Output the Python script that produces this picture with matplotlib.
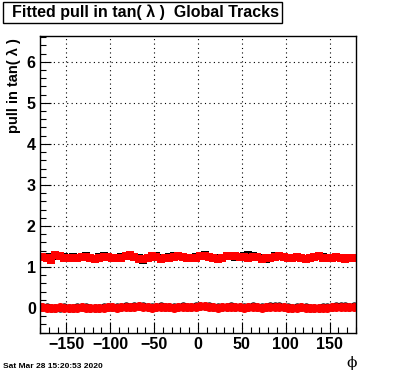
import numpy as np
import matplotlib
matplotlib.use("Agg")
import matplotlib.pyplot as plt
from matplotlib.ticker import MultipleLocator
from matplotlib.patches import Rectangle

phi = np.arange(-177.5, 180, 5.0)

sigma_red = [1.24, 1.22, 1.17, 1.28, 1.27, 1.22, 1.21, 1.23, 1.22, 1.24, 1.25, 1.21,
             1.20, 1.22, 1.25, 1.24, 1.22, 1.21, 1.23, 1.27, 1.29, 1.24, 1.20, 1.19,
             1.22, 1.26, 1.25, 1.20, 1.22, 1.23, 1.25, 1.26, 1.24, 1.22, 1.21, 1.23,
             1.27, 1.27, 1.24, 1.22, 1.20, 1.23, 1.26, 1.27, 1.26, 1.25, 1.25, 1.23,
             1.25, 1.24, 1.20, 1.21, 1.22, 1.25, 1.26, 1.24, 1.22, 1.21, 1.24, 1.22,
             1.20, 1.21, 1.24, 1.26, 1.23, 1.21, 1.22, 1.24, 1.21, 1.20, 1.22, 1.22]
sigma_black = [1.25, 1.24, 1.19, 1.27, 1.26, 1.24, 1.22, 1.25, 1.23, 1.25, 1.27, 1.23,
               1.19, 1.24, 1.26, 1.25, 1.23, 1.22, 1.25, 1.26, 1.28, 1.25, 1.21, 1.18,
               1.23, 1.27, 1.26, 1.21, 1.23, 1.24, 1.27, 1.27, 1.25, 1.21, 1.22, 1.24,
               1.26, 1.28, 1.25, 1.23, 1.21, 1.22, 1.27, 1.26, 1.25, 1.24, 1.26, 1.29,
               1.26, 1.25, 1.22, 1.19, 1.23, 1.26, 1.27, 1.25, 1.21, 1.22, 1.25, 1.23,
               1.19, 1.22, 1.25, 1.27, 1.24, 1.21, 1.21, 1.25, 1.23, 1.21, 1.21, 1.23]
mean_red = [0.02, 0.01, 0.00, 0.01, 0.02, 0.01, 0.00, 0.00, 0.01, 0.02, 0.01, 0.00,
            -0.01, 0.00, 0.01, 0.02, 0.02, 0.01, 0.02, 0.03, 0.02, 0.03, 0.04, 0.03,
            0.02, 0.01, 0.02, 0.03, 0.02, 0.02, 0.01, 0.02, 0.03, 0.02, 0.02, 0.03,
            0.04, 0.04, 0.03, 0.02, 0.01, 0.02, 0.02, 0.03, 0.02, 0.02, 0.01, 0.02,
            0.03, 0.02, 0.01, 0.02, 0.03, 0.02, 0.03, 0.02, 0.01, 0.00, 0.01, 0.02,
            0.01, 0.00, -0.01, 0.00, 0.01, 0.01, 0.02, 0.03, 0.03, 0.02, 0.03, 0.03]
mean_black = [0.03, 0.02, 0.01, 0.00, 0.01, 0.02, 0.01, 0.01, 0.02, 0.03, 0.02, 0.01,
              0.00, 0.01, 0.02, 0.03, 0.03, 0.02, 0.03, 0.04, 0.03, 0.04, 0.05, 0.04,
              0.03, 0.02, 0.03, 0.04, 0.03, 0.03, 0.02, 0.03, 0.04, 0.03, 0.03, 0.04,
              0.06, 0.05, 0.04, 0.03, 0.02, 0.03, 0.03, 0.04, 0.03, 0.03, 0.02, 0.03,
              0.04, 0.03, 0.02, 0.03, 0.04, 0.05, 0.04, 0.03, 0.02, 0.01, 0.02, 0.03,
              0.02, 0.01, 0.00, 0.01, 0.02, 0.02, 0.03, 0.04, 0.05, 0.04, 0.03, 0.04]

plt.rcParams['font.family'] = ['Liberation Sans', 'DejaVu Sans']
plt.rcParams['font.weight'] = 'bold'

fig = plt.figure(figsize=(3.96, 3.72), dpi=100)
W, H = 396, 372
ax = fig.add_axes([40 / W, 1 - 333 / H, 316 / W, 297 / H])

ax.plot(phi, sigma_black, ls='none', marker='s', ms=5.5, color='black', mew=0)
ax.plot(phi, mean_black, ls='none', marker='o', ms=6, color='black', mew=0)
ax.plot(phi, sigma_red, ls='none', marker='s', ms=6, color='red', mew=0)
ax.plot(phi, mean_red, ls='none', marker='o', ms=6.5, color='red', mew=0)

ax.set_xlim(-180, 180)
ax.set_ylim(-0.61, 6.63)
ax.xaxis.set_major_locator(MultipleLocator(50))
ax.xaxis.set_minor_locator(MultipleLocator(10))
ax.yaxis.set_major_locator(MultipleLocator(1))
ax.yaxis.set_minor_locator(MultipleLocator(0.2))
ax.tick_params(which='both', direction='in', top=False, right=False,
               labelsize=11.5, width=0.8, pad=3)
ax.tick_params(which='major', length=8)
ax.tick_params(which='minor', length=4)
for lab in ax.get_xticklabels() + ax.get_yticklabels():
    lab.set_fontweight('bold')
ax.grid(True, which='major', ls=(0, (1, 3)), color='black', lw=0.8)
for s in ax.spines.values():
    s.set_linewidth(1.0)

fig.text(14 / W, 1 - 38 / H, 'pull in tan( λ )', fontsize=10.5, fontweight='bold',
         rotation=90, ha='center', va='top')
fig.text(352 / W, 1 - 363 / H, 'ϕ', fontsize=11, ha='center', va='center',
         family=['DejaVu Serif'], fontweight='normal')
fig.text(3 / W, 1 - 366 / H, 'Sat Mar 28 15:20:53 2020', fontsize=6,
         fontweight='bold', ha='left', va='center')
fig.patches.append(Rectangle((3 / W, 1 - 23 / H), 279 / W, 21 / H,
                             transform=fig.transFigure, fc='white', ec='black', lw=1))
fig.text(12 / W, 1 - 12.5 / H, 'Fitted pull in tan( λ )  Global Tracks', fontsize=11.5,
         fontweight='bold', ha='left', va='center')

fig.savefig('out.png', dpi=100)
